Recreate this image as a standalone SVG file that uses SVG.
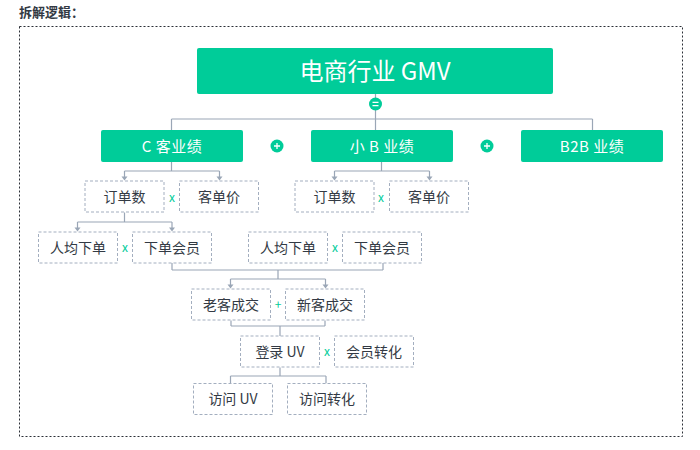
<svg xmlns="http://www.w3.org/2000/svg" width="700" height="450" viewBox="0 0 700 450">
<defs>
<style>
.t{font-family:"Noto Sans CJK SC","Liberation Sans",sans-serif;}
.main{fill:#00cc99;}
.mt{fill:#fff;text-anchor:middle;}
.box{fill:#fff;stroke:#a3aebf;stroke-width:1;stroke-dasharray:3 2;}
.bt{fill:#333a44;font-size:14px;text-anchor:middle;}
.ln{fill:none;stroke:#9aa6b6;stroke-width:1.2;}
.ah{fill:#9aa6b6;}
.op{fill:#00cc99;font-size:12px;text-anchor:middle;}
.circ{fill:#00cc99;}
.sym{stroke:#fff;stroke-width:1.3;fill:none;}
</style>
</defs>
<rect width="700" height="450" fill="#fff"/>
<text class="t" x="19" y="16.5" font-size="13" font-weight="bold" fill="#333a44">拆解逻辑：</text>
<rect x="19.5" y="26.5" width="663" height="410" fill="none" stroke="#2b2f36" stroke-width="1" stroke-dasharray="2 2"/>

<g id="connectors">
<path class="ln" d="M375.5,94 V130 M171.5,119 H592.5 M171.5,119 V130 M592.5,119 V130"/>
<path class="ln" d="M171.5,162 V171 M124.5,171 H219.5 M124.5,171 V177 M219.5,171 V177"/>
<path class="ln" d="M381.5,162 V171 M334.5,171 H429.5 M334.5,171 V177 M429.5,171 V177"/>
<path class="ln" d="M124.5,212.5 V222 M77.5,222 H172 M77.5,222 V228 M172,222 V228"/>
<path class="ln" d="M172,263 V270 M383,263 V270 M172,270 H383 M278,270 V279 M230.5,279 H325.5 M230.5,279 V285 M325.5,279 V285"/>
<path class="ln" d="M231,320.5 V326 M325,320.5 V326 M231,326 H325 M280,326 V336"/>
<path class="ln" d="M280,367.5 V376 M230.5,376 H326 M230.5,376 V383.5 M326,376 V383.5"/>
<path class="ah" d="M121.5,176.5 H127.5 L124.5,180.5 Z"/>
<path class="ah" d="M216.5,176.5 H222.5 L219.5,180.5 Z"/>
<path class="ah" d="M331.5,176.5 H337.5 L334.5,180.5 Z"/>
<path class="ah" d="M426.5,176.5 H432.5 L429.5,180.5 Z"/>
<path class="ah" d="M74.5,227.5 H80.5 L77.5,231.5 Z"/>
<path class="ah" d="M169,227.5 H175 L172,231.5 Z"/>
<path class="ah" d="M227.5,284.5 H233.5 L230.5,288.5 Z"/>
<path class="ah" d="M322.5,284.5 H328.5 L325.5,288.5 Z"/>
<circle class="circ" cx="375.5" cy="104" r="6.5"/>
<path class="sym" d="M372.5,102.3 H378.5 M372.5,105.7 H378.5"/>
<circle class="circ" cx="277" cy="146" r="6.5"/>
<path class="sym" d="M274,146 H280 M277,143 V149"/>
<circle class="circ" cx="487" cy="146" r="6.5"/>
<path class="sym" d="M484,146 H490 M487,143 V149"/>
<text class="t op" x="172" y="202">x</text>
<text class="t op" x="381" y="202">x</text>
<text class="t op" x="125" y="252">x</text>
<text class="t op" x="335" y="252">x</text>
<text class="t op" x="278" y="309">+</text>
<text class="t op" x="327" y="356">x</text>
</g>

<g id="n-gmv"><rect class="main" x="197" y="48" width="356" height="46" rx="2"/><text class="t mt" x="375" y="79.5" font-size="24">电商行业 GMV</text></g>
<g id="n-c"><rect class="main" x="101" y="130" width="142" height="32" rx="2"/><text class="t mt" x="172" y="151.5" font-size="15" letter-spacing="0.5">C 客业绩</text></g>
<g id="n-b"><rect class="main" x="311" y="130" width="142" height="32" rx="2"/><text class="t mt" x="382" y="151.5" font-size="15" letter-spacing="0.5">小 B 业绩</text></g>
<g id="n-b2b"><rect class="main" x="521" y="130" width="142" height="32" rx="2"/><text class="t mt" x="592" y="151.5" font-size="15" letter-spacing="0.5">B2B 业绩</text></g>

<g id="n-c-orders"><rect class="box" x="85" y="181" width="79" height="31"/><text class="t bt" x="124.5" y="201.5">订单数</text></g>
<g id="n-c-price"><rect class="box" x="179.5" y="181" width="79" height="31"/><text class="t bt" x="219" y="201.5">客单价</text></g>
<g id="n-b-orders"><rect class="box" x="295" y="181" width="79" height="31"/><text class="t bt" x="334.5" y="201.5">订单数</text></g>
<g id="n-b-price"><rect class="box" x="389.5" y="181" width="79" height="31"/><text class="t bt" x="429" y="201.5">客单价</text></g>

<g id="n-c-avg"><rect class="box" x="38.5" y="232" width="79" height="31"/><text class="t bt" x="78" y="252.5">人均下单</text></g>
<g id="n-c-members"><rect class="box" x="132.5" y="232" width="79" height="31"/><text class="t bt" x="172" y="252.5">下单会员</text></g>
<g id="n-b-avg"><rect class="box" x="248.5" y="232" width="79" height="31"/><text class="t bt" x="288" y="252.5">人均下单</text></g>
<g id="n-b-members"><rect class="box" x="342.5" y="232" width="79" height="31"/><text class="t bt" x="382" y="252.5">下单会员</text></g>

<g id="n-old"><rect class="box" x="191.5" y="289" width="79" height="31"/><text class="t bt" x="231" y="309.5">老客成交</text></g>
<g id="n-new"><rect class="box" x="285.5" y="289" width="79" height="31"/><text class="t bt" x="325" y="309.5">新客成交</text></g>

<g id="n-login"><rect class="box" x="240.5" y="336" width="79" height="31"/><text class="t bt" x="280" y="356.5">登录 UV</text></g>
<g id="n-conv"><rect class="box" x="334.5" y="336" width="79" height="31"/><text class="t bt" x="374" y="356.5">会员转化</text></g>

<g id="n-visit"><rect class="box" x="193.5" y="383.5" width="79" height="31"/><text class="t bt" x="233" y="404">访问 UV</text></g>
<g id="n-visit-conv"><rect class="box" x="287.5" y="383.5" width="79" height="31"/><text class="t bt" x="327" y="404">访问转化</text></g>
</svg>
